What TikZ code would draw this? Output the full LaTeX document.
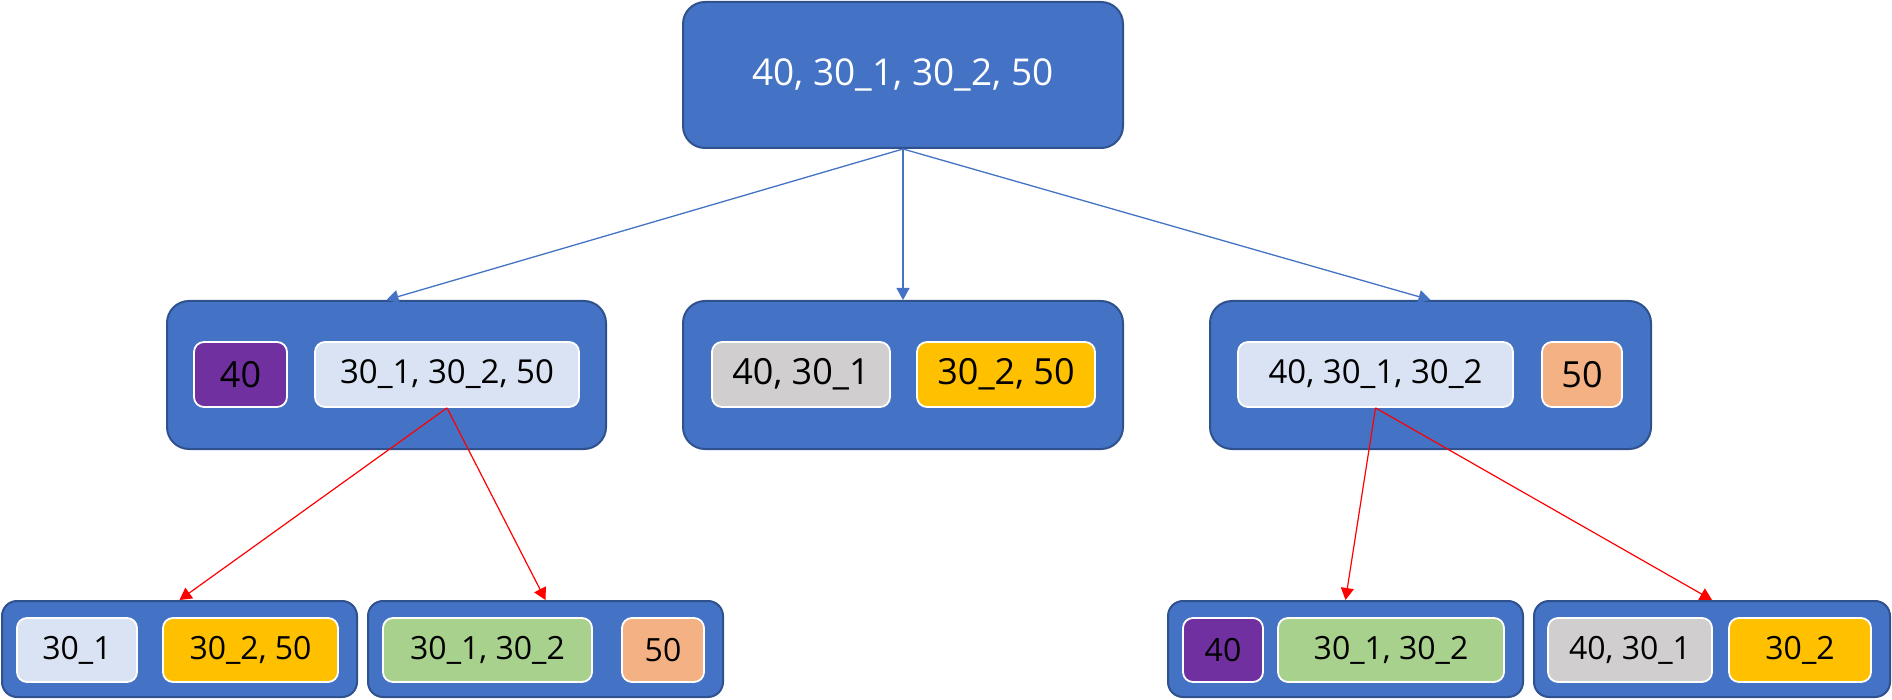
\documentclass[tikz,border=0pt]{standalone}
\usepackage{fontspec}
\setmainfont{Open Sans}
\usetikzlibrary{arrows.meta}
\definecolor{nodeblue}{HTML}{4472C4}
\definecolor{rimblue}{HTML}{2F528F}
\definecolor{keypurple}{HTML}{7030A0}
\definecolor{keylight}{HTML}{DAE3F3}
\definecolor{keygrey}{HTML}{D0CECE}
\definecolor{keygold}{HTML}{FFC000}
\definecolor{keyorange}{HTML}{F4B183}
\definecolor{keygreen}{HTML}{A9D18E}
\definecolor{splitred}{HTML}{FF0000}
\begin{document}
\begin{tikzpicture}[x=1pt,y=-1pt,
  page/.style={inner sep=0pt, align=center},
  outer/.style={page, draw=rimblue, line width=2pt, fill=nodeblue, rounded corners=22pt},
  outersmall/.style={outer, rounded corners=15pt},
  key/.style={page, draw=white, line width=1.8pt, rounded corners=10pt, text=black},
  big/.style={font=\fontsize{36}{40}\selectfont},
  mid/.style={font=\fontsize{33}{38}\selectfont},
  small/.style={font=\fontsize{32}{36}\selectfont},
  down/.style={draw=nodeblue, line width=1.3pt, -{Triangle[length=12pt,width=13pt]}},
  split/.style={draw=splitred, line width=1.2pt, -{Triangle[length=12pt,width=13pt]}}]
\useasboundingbox (0,0) rectangle (1892,700);

% root
\node[outer, minimum width=440, minimum height=146, text=white,
      font=\fontsize{37}{42}\selectfont] (root) at (903,75) {40, 30\_1, 30\_2, 50};

% second level
\node[outer, minimum width=439, minimum height=148] (left) at (386.5,375) {};
\node[key, big, fill=keypurple, minimum width=93, minimum height=65] (l1) at (240.5,374.5) {40};
\node[key, mid, fill=keylight, minimum width=264, minimum height=65] (l2) at (447,374.5) {30\_1, 30\_2, 50};

\node[outer, minimum width=440, minimum height=148] (middle) at (903,375) {};
\node[key, big, fill=keygrey, minimum width=178, minimum height=65] (m1) at (801,374.5) {40, 30\_1};
\node[key, big, fill=keygold, minimum width=178, minimum height=65] (m2) at (1006,374.5) {30\_2, 50};

\node[outer, minimum width=441, minimum height=148] (right) at (1430.5,375) {};
\node[key, mid, fill=keylight, minimum width=275, minimum height=65] (r1) at (1375.5,374.5) {40, 30\_1, 30\_2};
\node[key, big, fill=keyorange, minimum width=80, minimum height=65] (r2) at (1582,374.5) {50};

% third level
\node[outersmall, minimum width=355, minimum height=96] (a) at (179.5,649) {};
\node[key, small, fill=keylight, minimum width=120, minimum height=64] (a1) at (77,650) {30\_1};
\node[key, small, fill=keygold, minimum width=175, minimum height=64] (a2) at (250.5,650) {30\_2, 50};

\node[outersmall, minimum width=355, minimum height=96] (b) at (545.5,649) {};
\node[key, small, fill=keygreen, minimum width=209, minimum height=64] (b1) at (487.5,650) {30\_1, 30\_2};
\node[key, small, fill=keyorange, minimum width=82, minimum height=64] (b2) at (663,650) {50};

\node[outersmall, minimum width=355, minimum height=96] (c) at (1345.5,649) {};
\node[key, small, fill=keypurple, minimum width=80, minimum height=64] (c1) at (1223,650) {40};
\node[key, small, fill=keygreen, minimum width=226, minimum height=64] (c2) at (1391,650) {30\_1, 30\_2};

\node[outersmall, minimum width=356, minimum height=96] (d) at (1712,649) {};
\node[key, small, fill=keygrey, minimum width=164, minimum height=64] (d1) at (1630,650) {40, 30\_1};
\node[key, small, fill=keygold, minimum width=142, minimum height=64] (d2) at (1800,650) {30\_2};

% connectors
\draw[down] (root.south) -- (left.north);
\draw[down] (root.south) -- (middle.north);
\draw[down] (root.south) -- (right.north);
\draw[split] (l2.south) -- (a.north);
\draw[split] (l2.south) -- (b.north);
\draw[split] (r1.south) -- (c.north);
\draw[split] (r1.south) -- (d.north);
\end{tikzpicture}
\end{document}
